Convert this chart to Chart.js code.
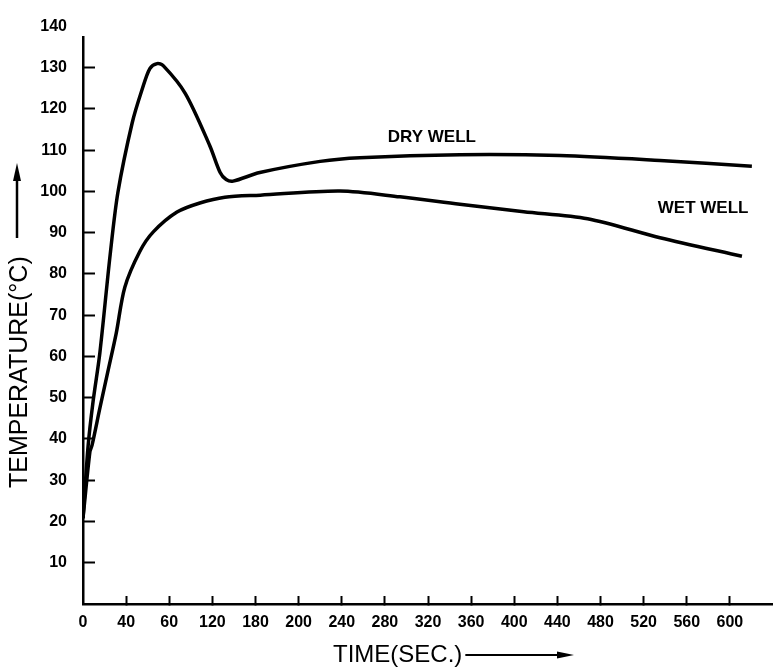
<!DOCTYPE html>
<html>
<head>
<meta charset="utf-8">
<script src="https://cdn.jsdelivr.net/npm/chart.js@4/dist/chart.umd.min.js"></script>
<style>
  body { margin: 0; background: #fff; }
  canvas { display: block; }
</style>
</head>
<body>
<canvas id="grafico" width="773" height="672"></canvas>
<script>
/* ============================
   DATA (x = position along the time axis, in tick steps)
============================ */

const tickLabels = ["0", "40", "60", "120", "180", "200", "240", "280", "320", "360", "400", "440", "480", "520", "560", "600"];
const tempTicks = [10, 20, 30, 40, 50, 60, 70, 80, 90, 100, 110, 120, 130, 140];

const dryPos  = [0, 0.12, 0.23, 0.39, 0.63, 0.81, 1.14, 1.37, 1.55, 1.72, 1.86, 2.37, 2.94, 3.18, 3.32, 3.48, 4.10, 5.50, 6.42, 8.74, 11.06, 13.38, 15.51];
const dryTemp = [20.8, 38.5, 48.8, 60.8, 84.7, 99.8, 116.6, 124.7, 129.8, 131, 130.5, 123.8, 111.1, 104.6, 102.9, 102.5, 104.6, 107.3, 108.2, 108.9, 108.7, 107.5, 106.1];

const wetPos  = [0, 0.16, 0.21, 0.39, 0.58, 0.77, 0.97, 1.32, 1.63, 2.18, 2.71, 3.29, 4.11, 5.96, 7.35, 8.74, 10.22, 11.70, 13.38, 15.28];
const wetTemp = [20.8, 36.9, 38.5, 47.4, 56.5, 65.6, 76.8, 85.5, 90.2, 95, 97.2, 98.6, 99.1, 100.1, 98.7, 96.9, 95.1, 93.4, 88.8, 84.3];

/* ============================
   HELPERS
============================ */

function pontos(xs, ys) {
    return xs.map((x, i) => ({ x: x, y: ys[i] }));
}

function seta(ctx, x1, y1, x2, y2, comp, larg) {
    const ang = Math.atan2(y2 - y1, x2 - x1);
    ctx.beginPath();
    ctx.moveTo(x1, y1);
    ctx.lineTo(x2 - Math.cos(ang) * comp * 0.6, y2 - Math.sin(ang) * comp * 0.6);
    ctx.stroke();
    ctx.beginPath();
    ctx.moveTo(x2, y2);
    ctx.lineTo(x2 - Math.cos(ang) * comp - Math.sin(ang) * larg / 2, y2 - Math.sin(ang) * comp + Math.cos(ang) * larg / 2);
    ctx.lineTo(x2 - Math.cos(ang) * comp + Math.sin(ang) * larg / 2, y2 - Math.sin(ang) * comp - Math.cos(ang) * larg / 2);
    ctx.closePath();
    ctx.fill();
}

const FONTE = "'Liberation Sans', Arial, sans-serif";

/* titles, curve labels and arrows */
const extras = {
    id: "extras",
    afterDraw(chart) {
        const ctx = chart.ctx;
        const xs = chart.scales.x, ys = chart.scales.y;
        ctx.save();
        ctx.fillStyle = "#000";
        ctx.strokeStyle = "#000";

        ctx.font = "bold 17px " + FONTE;
        ctx.textAlign = "center";
        ctx.textBaseline = "middle";
        ctx.fillText("DRY WELL", xs.getPixelForValue(8.09), ys.getPixelForValue(113.2));
        ctx.fillText("WET WELL", xs.getPixelForValue(14.38), ys.getPixelForValue(96.0));

        // x title
        ctx.font = "24px " + FONTE;
        ctx.textAlign = "left";
        ctx.fillText("TIME(SEC.)", 333, 655);
        const fim = 333 + ctx.measureText("TIME(SEC.)").width;
        ctx.lineWidth = 2;
        seta(ctx, fim + 3, 655, 574, 655, 17, 7);

        // y title
        ctx.save();
        ctx.font = "25px " + FONTE;
        ctx.translate(20, 488);
        ctx.rotate(-Math.PI / 2);
        ctx.fillText("TEMPERATURE(°C)", 0, 0);
        ctx.restore();
        ctx.lineWidth = 2.5;
        seta(ctx, 17, 238, 17, 163, 18, 8);

        ctx.restore();
    }
};

/* ============================
   CHART
============================ */

const ctx = document.getElementById("grafico").getContext("2d");

new Chart(ctx, {
    type: "line",
    data: {
        datasets: [
            {
                label: "DRY WELL",
                data: pontos(dryPos, dryTemp),
                borderColor: "#000",
                borderWidth: 3.5,
                pointRadius: 0,
                tension: 0.3,
                fill: false
            },
            {
                label: "WET WELL",
                data: pontos(wetPos, wetTemp),
                borderColor: "#000",
                borderWidth: 3.5,
                pointRadius: 0,
                tension: 0.3,
                fill: false
            }
        ]
    },
    options: {
        responsive: false,
        animation: false,
        devicePixelRatio: 1,
        layout: { padding: { top: 30, left: 0, right: 0, bottom: 0 } },
        plugins: {
            legend: { display: false },
            tooltip: { enabled: false }
        },
        scales: {
            x: {
                type: "linear",
                min: 0,
                max: 16,
                afterBuildTicks: (scale) => {
                    scale.ticks = tickLabels.map((t, i) => ({ value: i }));
                },
                afterFit: (scale) => { scale.height = 68; },
                ticks: {
                    autoSkip: false,
                    maxRotation: 0,
                    padding: 17,
                    color: "#000",
                    font: { family: FONTE, size: 16, weight: "bold" },
                    callback: (v) => tickLabels[v] !== undefined ? tickLabels[v] : ""
                },
                grid: {
                    display: true,
                    drawOnChartArea: false,
                    drawTicks: true,
                    tickLength: -8,
                    tickWidth: 2,
                    tickColor: (c) => c.tick && c.tick.value === 0 ? "rgba(0,0,0,0)" : "#000"
                },
                border: { display: true, color: "#000", width: 2.5 }
            },
            y: {
                type: "linear",
                min: 0,
                max: 137.3,
                afterBuildTicks: (scale) => {
                    scale.ticks = tempTicks.map((v) => ({ value: v }));
                },
                afterFit: (scale) => { scale.width = 83; },
                ticks: {
                    autoSkip: false,
                    padding: 28,
                    color: "#000",
                    font: { family: FONTE, size: 16, weight: "bold" },
                    callback: (v) => String(v)
                },
                grid: {
                    display: true,
                    drawOnChartArea: false,
                    drawTicks: true,
                    tickLength: -12,
                    tickWidth: 2,
                    tickColor: (c) => c.tick && c.tick.value === 140 ? "rgba(0,0,0,0)" : "#000"
                },
                border: { display: true, color: "#000", width: 2.5 }
            }
        }
    },
    plugins: [extras]
});
</script>
</body>
</html>
